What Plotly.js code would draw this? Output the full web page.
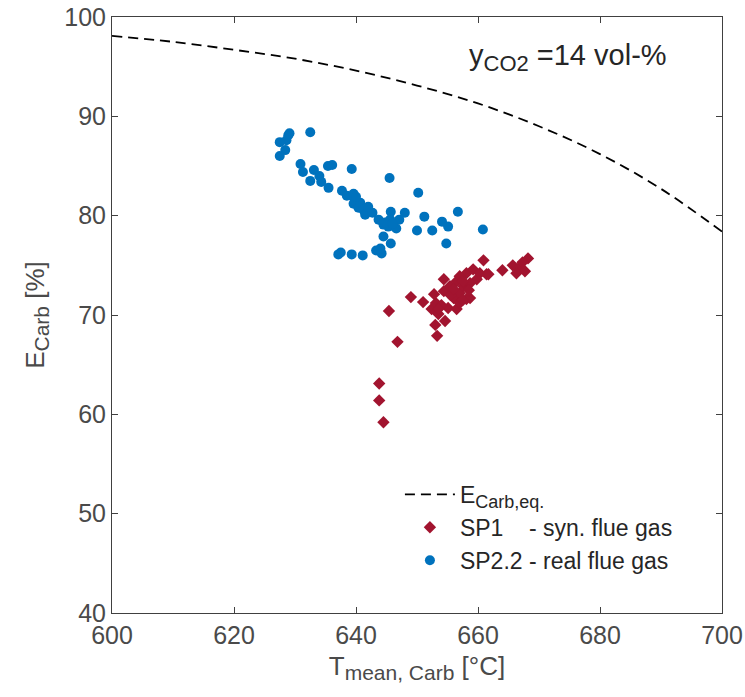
<!DOCTYPE html>
<html>
<head>
<meta charset="utf-8">
<script src="https://cdn.plot.ly/plotly-3.0.1.min.js"></script>
<style>html,body{margin:0;padding:0;background:#fff;}#chart{width:745px;height:697px;}</style>
</head>
<body>
<div id="chart"></div>
<script>
// Equilibrium curve E_Carb,eq
const eqT = [600, 610, 620, 630, 640, 650, 660, 670, 680, 690, 700];
const eqE = [98.1, 97.5, 96.7, 95.8, 94.6, 93.1, 91.3, 89.0, 86.2, 82.7, 78.4];

// SP1 - synthetic flue gas
const sp1T = [643.8, 643.8, 644.5, 646.8, 645.4, 649.0, 651.0, 653.3, 653.0, 654.6,
              652.4, 653.1, 652.8, 654.4, 655.1, 656.5, 654.4, 655.4, 656.5, 656.0,
              657.0, 658.1, 657.6, 658.1, 659.2, 659.8, 660.9, 661.4, 660.3, 658.7,
              664.0, 665.7, 666.6, 667.7, 668.2, 667.3, 666.3, 657.0, 653.5, 657.0,
              661.7, 658.7, 655.5, 656.0, 657.5, 658.5, 654.0, 653.5, 657.5];
const sp1E = [63.1, 61.4, 59.2, 67.3, 70.4, 71.8, 71.3, 67.9, 69.0, 69.4,
              70.6, 71.2, 72.1, 73.6, 70.7, 70.6, 72.4, 72.9, 73.4, 71.7,
              72.2, 71.6, 72.9, 74.2, 74.6, 73.6, 75.5, 74.1, 74.2, 73.2,
              74.5, 75.0, 74.7, 74.4, 75.7, 75.3, 74.2, 71.2, 70.1, 73.9,
              74.1, 71.7, 72.0, 72.6, 73.4, 72.5, 71.0, 70.6, 71.5];

// SP2.2 - real flue gas
const sp22T = [628.9, 629.1, 628.6, 627.5, 628.4, 627.5, 632.5, 630.9, 631.3, 633.1,
               634.0, 632.5, 634.3, 635.4, 636.1, 635.5, 639.3, 637.7, 638.5, 639.6,
               639.8, 639.6, 640.7, 640.4, 641.2, 641.5, 642.7, 643.7, 644.5, 645.3,
               645.7, 645.6, 646.6, 647.1, 648.0, 645.5, 650.2, 651.2, 650.0, 652.5,
               654.1, 655.1, 656.7, 660.8, 654.8, 644.5, 645.7, 643.3, 644.2, 644.0,
               641.1, 639.3, 637.5, 637.1, 640.0, 642.0, 644.8, 646.0];
const sp22E = [88.1, 88.3, 87.6, 87.4, 86.6, 86.0, 88.4, 85.2, 84.4, 84.6,
               84.0, 83.5, 83.4, 85.0, 85.1, 82.8, 84.7, 82.5, 82.0, 82.2,
               81.6, 81.2, 81.3, 80.8, 80.6, 80.1, 80.3, 79.6, 79.1, 78.9,
               80.4, 79.6, 78.7, 79.6, 80.3, 83.8, 82.3, 79.9, 78.5, 78.5,
               79.4, 78.9, 80.4, 78.6, 77.2, 77.9, 77.2, 76.5, 76.2, 76.7,
               76.0, 76.1, 76.3, 76.1, 81.9, 80.9, 79.3, 79.2];

const xTicks = [600, 620, 640, 660, 680, 700];
const yTicks = [40, 50, 60, 70, 80, 90, 100];

const FONT = 'Arial, "Liberation Sans", sans-serif';
const TICKC = '#4a4a4a';
const TXT = '#262626';
const NB = '\u00a0';

function sub(t, px) { return '<sub><span style="font-size:' + px + 'px">' + t + '</span></sub>'; }

const traces = [
  {x: eqT, y: eqE, type: 'scatter', mode: 'lines', name: 'E' + sub('Carb,eq.', 18),
   line: {color: '#000000', width: 1.8, dash: '10px,6px', shape: 'spline'}},
  {x: sp1T, y: sp1E, type: 'scatter', mode: 'markers',
   name: 'SP1' + NB.repeat(4) + '- syn. flue gas',
   marker: {symbol: 'diamond', size: 9.5, color: '#A2142F'}},
  {x: sp22T, y: sp22E, type: 'scatter', mode: 'markers',
   name: 'SP2.2 - real flue gas',
   marker: {symbol: 'circle', size: 10, color: '#0072BD'}}
];

const axisCommon = {
  showline: true, linecolor: '#404040', linewidth: 1, mirror: 'ticks',
  ticks: 'inside', ticklen: 6, tickwidth: 1, tickcolor: '#404040',
  showgrid: false, zeroline: false,
  tickfont: {family: FONT, size: 25, color: TICKC}
};

const layout = {
  width: 745, height: 697,
  margin: {l: 112, r: 23, t: 17, b: 84},
  paper_bgcolor: '#ffffff', plot_bgcolor: '#ffffff',
  font: {family: FONT, color: TXT},
  showlegend: true,
  legend: {x: 0.472, y: 0.235, xanchor: 'left', yanchor: 'top',
           bgcolor: 'rgba(0,0,0,0)', borderwidth: 0,
           font: {family: FONT, size: 23, color: TXT}, itemwidth: 50,
           tracegroupgap: 0},
  xaxis: Object.assign({}, axisCommon, {
    range: [600, 700], tickmode: 'array', tickvals: xTicks,
    ticktext: xTicks.map(String),
    title: {text: 'T' + sub('mean, Carb', 21) + ' [°C]', font: {family: FONT, size: 26, color: TICKC}, standoff: 8}
  }),
  yaxis: Object.assign({}, axisCommon, {
    range: [40, 100], tickmode: 'array', tickvals: yTicks,
    ticktext: yTicks.map(String),
    title: {text: 'E' + sub('Carb', 21) + ' [%]', font: {family: FONT, size: 26, color: TICKC}, standoff: 12}
  }),
  annotations: [{
    xref: 'paper', yref: 'paper', x: 0.748, y: 0.932, xanchor: 'center', yanchor: 'middle',
    showarrow: false, text: 'y' + sub('CO2', 22) + ' =14 vol-%',
    font: {family: FONT, size: 29, color: TXT}
  }]
};

Plotly.newPlot('chart', traces, layout, {displayModeBar: false, staticPlot: true});
</script>
</body>
</html>
